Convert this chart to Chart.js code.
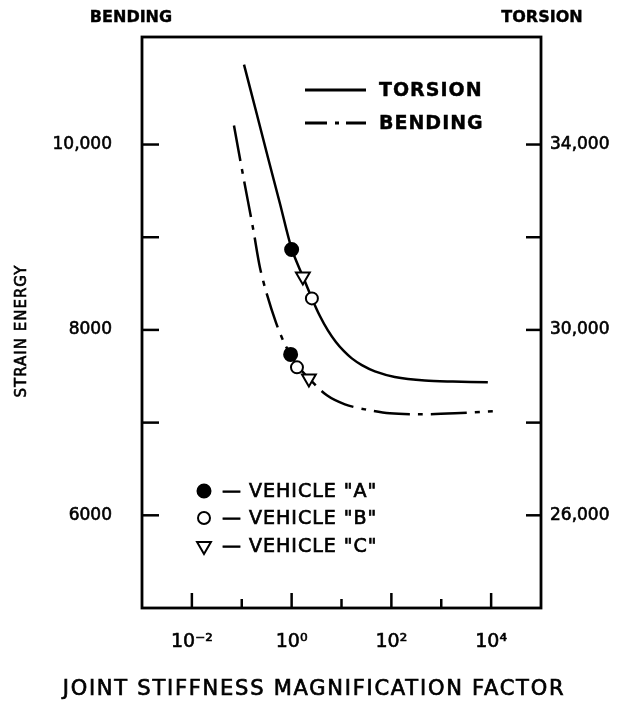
<!DOCTYPE html>
<html>
<head>
<meta charset="utf-8">
<script src="https://cdn.jsdelivr.net/npm/chart.js@4.4.1/dist/chart.umd.min.js"></script>
<style>
  html, body { margin: 0; padding: 0; background: #fff; }
  #wrap { width: 636px; height: 702px; }
</style>
</head>
<body>
<div id="wrap"><canvas id="chart" width="636" height="702"></canvas></div>
<script>
// joint stiffness magnification factor vs strain energy
const torsionX = [0.111, 0.192, 0.335, 0.583, 1.01, 1.68, 2.55, 3.69, 5.33, 7.72, 11.2, 16.1, 25.6, 46.7, 117, 469, 1706, 8590];
const torsionY = [35725, 34733, 33720, 32728, 31736, 31154, 30680, 30300, 29990, 29740, 29541, 29386, 29240, 29106, 28985, 28908, 28885, 28869];

const bendingX = [0.0698, 0.104, 0.170, 0.232, 0.320, 0.484, 0.701, 0.968, 1.34, 2.22, 5.09, 11.7, 29.4, 93, 372, 1875, 10800];
const bendingY = [10205, 9695, 9084, 8671, 8383, 8081, 7866, 7725, 7607, 7477, 7294, 7197, 7143, 7100, 7089, 7100, 7122];

// vehicle points: A (filled circle), B (open circle), C (triangle)
const vehicleLabels = ['\u2014 VEHICLE "A"', '\u2014 VEHICLE "B"', '\u2014 VEHICLE "C"'];
const torsionVehicleX = [1.0, 2.55, 1.68];
const torsionVehicleY = [31736, 30680, 31154];
const bendingVehicleX = [0.955, 1.28, 2.22];
const bendingVehicleY = [7736, 7596, 7477];

const xTicks = [1e-2, 1e-1, 1, 10, 100, 1e3, 1e4];
const xTickLabels = { '-2': '10\u207B\u00B2', '0': '10\u2070', '2': '10\u00B2', '4': '10\u2074' };
const bendingTicks = [6000, 7000, 8000, 9000, 10000];
const bendingTickLabels = ['6000', '', '8000', '', '10,000'];
const torsionTicks = [26000, 28000, 30000, 32000, 34000];
const torsionTickLabels = ['26,000', '', '30,000', '', '34,000'];

const FONT = 'DejaVu Sans';

function pts(xs, ys) {
    return xs.map((x, i) => ({ x: x, y: ys[i] }));
}

const markerStyles = [
    { pointStyle: 'circle', radius: 6.5, fill: '#000', rotation: 0 },
    { pointStyle: 'circle', radius: 6, fill: '#fff', rotation: 0 },
    { pointStyle: 'triangle', radius: 8, fill: '#fff', rotation: 180 }
];

const markerSets = [];
markerStyles.forEach((m, i) => {
    markerSets.push({
        data: [{ x: torsionVehicleX[i], y: torsionVehicleY[i] }],
        yAxisID: 'yT',
        showLine: false,
        pointStyle: m.pointStyle,
        pointRadius: m.radius,
        pointRotation: m.rotation,
        pointBackgroundColor: m.fill,
        pointBorderColor: '#000',
        pointBorderWidth: 2
    });
    markerSets.push({
        data: [{ x: bendingVehicleX[i], y: bendingVehicleY[i] }],
        yAxisID: 'yB',
        showLine: false,
        pointStyle: m.pointStyle,
        pointRadius: m.radius,
        pointRotation: m.rotation,
        pointBackgroundColor: m.fill,
        pointBorderColor: '#000',
        pointBorderWidth: 2
    });
});

// filled text with a thin stroke, closer to the heavy stencil lettering
function text(ctx, str, x, y, font, align, spacing, stroke) {
    ctx.font = font;
    ctx.textAlign = align;
    ctx.textBaseline = 'middle';
    ctx.letterSpacing = (spacing || 0) + 'px';
    ctx.fillText(str, x, y);
    if (stroke) {
        ctx.lineWidth = stroke;
        ctx.strokeText(str, x, y);
    }
}

function line(ctx, x1, y1, x2, y2) {
    ctx.beginPath();
    ctx.moveTo(x1, y1);
    ctx.lineTo(x2, y2);
    ctx.stroke();
}

const framePlugin = {
    id: 'frame',
    afterDraw(chart) {
        const ctx = chart.ctx;
        const a = chart.chartArea;
        const s = chart.scales;
        ctx.save();
        ctx.strokeStyle = '#000';
        ctx.fillStyle = '#000';
        ctx.lineWidth = 2.8;
        ctx.strokeRect(a.left, a.top, a.right - a.left, a.bottom - a.top);

        // inward tick marks
        ctx.lineWidth = 2.5;
        s.yB.ticks.forEach(t => {
            const y = s.yB.getPixelForValue(t.value);
            line(ctx, a.left, y, a.left + 17, y);
        });
        s.yT.ticks.forEach(t => {
            const y = s.yT.getPixelForValue(t.value);
            line(ctx, a.right - 15, y, a.right, y);
        });
        s.x.ticks.forEach(t => {
            const x = s.x.getPixelForValue(t.value);
            const e = Math.round(Math.log10(t.value));
            line(ctx, x, a.bottom, x, a.bottom - (e % 2 === 0 ? 15 : 9));
        });

        // axis headers and titles
        text(ctx, 'BENDING', 131, 18, 'bold 16px ' + FONT, 'center', 0, 0.4);
        text(ctx, 'TORSION', 542, 18, 'bold 16px ' + FONT, 'center', 0, 0.4);
        text(ctx, 'JOINT STIFFNESS MAGNIFICATION FACTOR', 314, 690, '21px ' + FONT, 'center', 1.75, 0.7);
        ctx.save();
        ctx.translate(22, 331);
        ctx.rotate(-Math.PI / 2);
        text(ctx, 'STRAIN ENERGY', 0, 0, '15px ' + FONT, 'center', 1, 0.6);
        ctx.restore();

        // line legend
        ctx.lineWidth = 3;
        line(ctx, 305, 90, 366, 90);
        ctx.setLineDash([22, 8, 4, 7]);
        line(ctx, 305, 123, 366, 123);
        ctx.setLineDash([]);
        text(ctx, 'TORSION', 379, 91, 'bold 19px ' + FONT, 'left', 1, 0.4);
        text(ctx, 'BENDING', 379, 124, 'bold 19px ' + FONT, 'left', 1, 0.4);

        // vehicle legend
        const rows = [491, 518, 546];
        markerStyles.forEach((m, i) => {
            ctx.fillStyle = m.fill;
            ctx.strokeStyle = '#000';
            ctx.lineWidth = 2;
            Chart.helpers.drawPoint(ctx, {
                pointStyle: m.pointStyle,
                radius: m.radius,
                rotation: m.rotation,
                borderWidth: 2
            }, 204, rows[i]);
            ctx.fillStyle = '#000';
            text(ctx, vehicleLabels[i], 222, rows[i] + 1, '19px ' + FONT, 'left', 1, 0.7);
        });
        ctx.restore();
    }
};

const tickFont = { family: FONT, size: 17 };

new Chart(document.getElementById('chart'), {
    type: 'line',
    data: {
        datasets: markerSets.concat([
            {
                label: 'TORSION',
                data: pts(torsionX, torsionY),
                yAxisID: 'yT',
                borderColor: '#000',
                borderWidth: 2.5,
                pointRadius: 0,
                tension: 0.3,
                fill: false
            },
            {
                label: 'BENDING',
                data: pts(bendingX, bendingY),
                yAxisID: 'yB',
                borderColor: '#000',
                borderWidth: 2.5,
                borderDash: [36, 8, 5, 8],
                pointRadius: 0,
                tension: 0.3,
                fill: false
            }
        ])
    },
    options: {
        responsive: false,
        animation: false,
        devicePixelRatio: 1,
        layout: { padding: { top: 37, left: 0, right: 0, bottom: 0 } },
        plugins: {
            legend: { display: false },
            tooltip: { enabled: false }
        },
        scales: {
            x: {
                type: 'logarithmic',
                position: 'bottom',
                min: 1e-3,
                max: 1e5,
                grid: { display: false },
                border: { display: false },
                afterBuildTicks: scale => {
                    scale.ticks = xTicks.map(v => ({ value: v }));
                },
                afterFit: scale => { scale.height = 94; },
                ticks: {
                    autoSkip: false,
                    maxRotation: 0,
                    color: '#000',
                    font: { family: FONT, size: 19 },
                    padding: 15,
                    textStrokeColor: '#000',
                    textStrokeWidth: 0.6,
                    callback: value => xTickLabels[String(Math.round(Math.log10(value)))] || ''
                }
            },
            yB: {
                type: 'linear',
                position: 'left',
                min: 5000,
                max: 11160,
                grid: { display: false },
                border: { display: false },
                afterBuildTicks: scale => {
                    scale.ticks = bendingTicks.map(v => ({ value: v }));
                },
                afterFit: scale => { scale.width = 142; },
                ticks: {
                    autoSkip: false,
                    color: '#000',
                    font: tickFont,
                    padding: 22,
                    textStrokeColor: '#000',
                    textStrokeWidth: 0.6,
                    callback: value => bendingTickLabels[bendingTicks.indexOf(value)]
                }
            },
            yT: {
                type: 'linear',
                position: 'right',
                min: 24000,
                max: 36320,
                grid: { display: false },
                border: { display: false },
                afterBuildTicks: scale => {
                    scale.ticks = torsionTicks.map(v => ({ value: v }));
                },
                afterFit: scale => { scale.width = 95; },
                ticks: {
                    autoSkip: false,
                    color: '#000',
                    font: tickFont,
                    padding: 1,
                    textStrokeColor: '#000',
                    textStrokeWidth: 0.6,
                    callback: value => torsionTickLabels[torsionTicks.indexOf(value)]
                }
            }
        }
    },
    plugins: [framePlugin]
});
</script>
</body>
</html>
